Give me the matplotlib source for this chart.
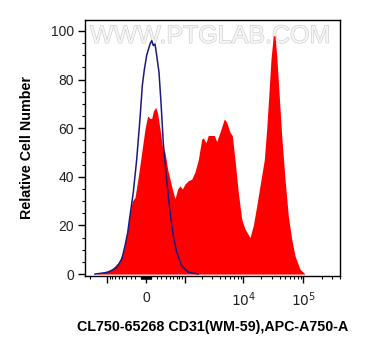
import matplotlib
matplotlib.use("Agg")
import matplotlib.pyplot as plt
import matplotlib.patheffects as pe
import numpy as np

plt.rcParams['font.family'] = ['Liberation Sans', 'DejaVu Sans']

# 대조군 (blue line): 형광 강도, 상대 세포 수
ctrl_x = [-1660, -960, -660, -514, -429, -365, -313, -243, -175, -111,
          -68, -31, 13, 74, 106, 136, 169, 202, 249, 291, 342, 398, 462,
          533, 599, 704, 881, 1166, 1748]
ctrl_y = [0, 0.7, 2.7, 6, 11.6, 17, 24, 33.6, 47, 64,
          77.5, 84, 90, 94.6, 96, 94, 94.6, 90, 83, 70.7, 54, 43, 32,
          22.6, 15.8, 9, 3.4, 0.7, 0]

# CD31 염색 (red fill)
cd31_x = [-1551, -829, -610, -472, -388, -313, -264, -208, -144, -79,
          -18, 31, 74, 106, 136, 183, 222, 270, 320, 381, 447, 506,
          570, 650, 737, 818, 905, 1016, 1166, 1341, 1532, 1748, 2000,
          2129, 2362, 2589, 2765, 3269, 3586, 4074, 4810, 5275, 5988,
          6543, 7258, 8237, 9384, 10650, 12900, 14640, 16680, 18930,
          22320, 24470, 26720, 28850, 31510, 33620, 35900, 39220, 43460,
          49340, 55970, 63740, 72340, 87650, 106200]
cd31_y = [0, 2, 4.8, 9, 15.8, 25, 30, 31.5, 40, 50,
          59.7, 65, 64, 64, 67, 68.6, 66, 59.7, 52.8, 50, 43, 39,
          35, 31, 35, 36.3, 35, 37, 38.4, 39, 42, 47, 55.5,
          56, 54, 57, 57, 57, 54.5, 58.3, 63.8, 62.4, 58.3,
          57, 47, 33.6, 22.6, 18.5, 15, 20, 28, 36.3,
          47, 59.7, 74.8, 88.5, 98, 98, 90, 74.8, 57,
          39, 24, 14.4, 7.5, 2, 0]

# 축 눈금
major_ticks = [-1000, 0, 1000, 10000, 100000]
major_labels = ["", "0", "", "$10^4$", "$10^5$"]
minor_ticks = ([-2000] + [-k * 100 for k in range(1, 10)] + [-k * 10 for k in range(1, 10)]
               + [k * 10 for k in range(1, 10)] + [k * 100 for k in range(1, 10)]
               + [k * 1000 for k in range(2, 10)] + [k * 10000 for k in range(2, 10)]
               + [200000, 300000, 400000])

C = 480.0


def fwd(x):
    return np.arcsinh(np.asarray(x, dtype=float) / C)


def inv(y):
    return C * np.sinh(y)


fig = plt.figure(figsize=(3.67, 3.56), dpi=100)
ax = fig.add_axes([0.2316, 0.2261, 0.6948, 0.7177])
ax.set_xscale('function', functions=(fwd, inv))

ax.fill_between(cd31_x, cd31_y, 0, color='#ff0000', linewidth=0, zorder=2)
ax.plot(ctrl_x, ctrl_y, color='#1a1a80', linewidth=1.1, zorder=3)

ax.text(0.49, 0.985, "WWW.PTGLAB.COM", transform=ax.transAxes, ha='center', va='top',
        fontsize=18, color='#f6f6f6', zorder=1,
        path_effects=[pe.withStroke(linewidth=0.8, foreground='#c8c8c8')])

ax.set_xlim(-2460, 405600)
ax.set_ylim(-0.6, 104.5)

ax.set_xticks(major_ticks)
ax.set_xticklabels(major_labels)
ax.set_xticks(minor_ticks, minor=True)
ax.set_yticks([0, 20, 40, 60, 80, 100])
ax.set_yticks(np.arange(0, 105, 5), minor=True)

ax.tick_params(axis='both', which='major', direction='out', length=5, width=1,
               labelsize=10, labelcolor='#222222')
ax.tick_params(axis='both', which='minor', direction='out', length=2.5, width=0.8)
ax.tick_params(axis='x', which='major', pad=6)
ax.tick_params(axis='y', which='major', pad=3)

for s in ax.spines.values():
    s.set_linewidth(1)

ax.set_ylabel("Relative Cell Number", fontsize=10.3, fontweight='bold', labelpad=12)
ax.set_xlabel("CL750-65268 CD31(WM-59),APC-A750-A", fontsize=10.3, fontweight='bold', labelpad=8)

fig.savefig("out.png", dpi=100)
